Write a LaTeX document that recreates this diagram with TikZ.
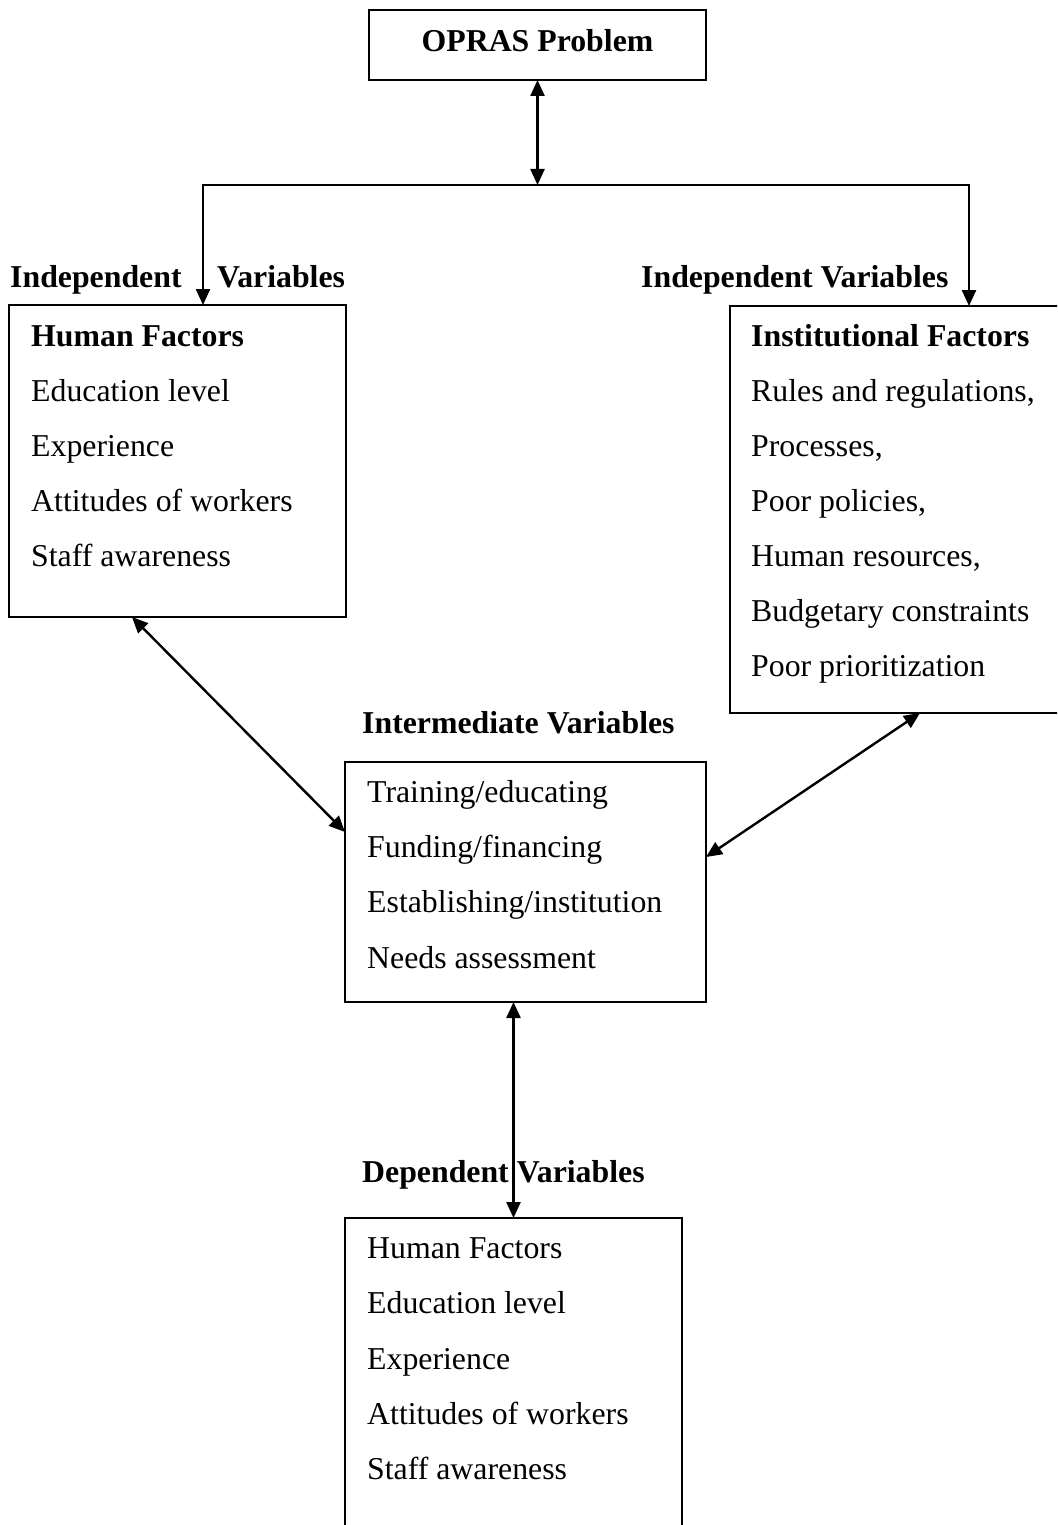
\documentclass[tikz,border=0pt]{standalone}
\usepackage{fontspec}
\setmainfont{Liberation Serif}
\usetikzlibrary{arrows.meta}
\begin{document}
\begin{tikzpicture}[x=1pt,y=-1pt,
  box/.style={draw,line width=2.2pt,inner sep=0pt,outer sep=0pt,anchor=north west},
  txt/.style={anchor=base west,inner sep=0pt,font=\fontsize{31.8}{38}\selectfont},
  btxt/.style={txt,font=\fontsize{31.8}{38}\selectfont\bfseries},
  conn/.style={line width=2.4pt},
  tip/.style={-{Triangle[length=16pt,width=14pt]}},
  dtip/.style={{Triangle[length=16pt,width=14pt]}-{Triangle[length=16pt,width=14pt]}}]
\useasboundingbox (0,0) rectangle (1057,1525);
\clip (0,0) rectangle (1057,1525);
% boxes
\node[box,minimum width=337pt,minimum height=70pt] (opras) at (369,10) {};
\node[btxt,anchor=base] (oprastxt) at (537.5,52) {OPRAS Problem};
\node[box,minimum width=337pt,minimum height=312pt] (human) at (9,305) {};
\node[box,minimum width=340pt,minimum height=407pt] (inst) at (730,306) {};
\node[box,minimum width=361pt,minimum height=240pt] (inter) at (345,762) {};
\node[box,minimum width=337pt,minimum height=330pt] (dep) at (345,1218) {};
% labels
\node[btxt] (lind) at (10,287) {Independent};
\node[btxt] (lvar) at (217,287) {Variables};
\node[btxt] (rind) at (641,287) {Independent Variables};
\node[btxt] (intlab) at (362,733) {Intermediate Variables};
\node[btxt] (deplab) at (362,1182) {Dependent Variables};
% human factors
\node[btxt] (h0) at (31,346) {Human Factors};
\node[txt] (h1) at (31,401) {Education level};
\node[txt] (h2) at (31,456) {Experience};
\node[txt] (h3) at (31,511) {Attitudes of workers};
\node[txt] (h4) at (31,566) {Staff awareness};
% institutional
\node[btxt] (i0) at (751,346) {Institutional Factors};
\node[txt] (i1) at (751,401) {Rules and regulations,};
\node[txt] (i2) at (751,456) {Processes,};
\node[txt] (i3) at (751,511) {Poor policies,};
\node[txt] (i4) at (751,566) {Human resources,};
\node[txt] (i5) at (751,621) {Budgetary constraints};
\node[txt] (i6) at (751,676) {Poor prioritization};
% intermediate
\node[txt] (m1) at (367,802) {Training/educating};
\node[txt] (m2) at (367,857) {Funding/financing};
\node[txt] (m3) at (367,912) {Establishing/institution};
\node[txt] (m4) at (367,968) {Needs assessment};
% dependent
\node[txt] (d1) at (367,1258) {Human Factors};
\node[txt] (d2) at (367,1313) {Education level};
\node[txt] (d3) at (367,1369) {Experience};
\node[txt] (d4) at (367,1424) {Attitudes of workers};
\node[txt] (d5) at (367,1479) {Staff awareness};
% connectors
\coordinate (jn) at (537.5,185);
\coordinate (jl) at (203,185);
\coordinate (jr) at (969,185);
\draw[conn,line cap=rect] (jl) -- (jr);
\draw[conn,dtip] (opras.south) -- (jn);
\draw[conn,tip] (jl) -- (jl |- human.north);
\draw[conn,tip] (jr) -- (jr |- inst.north);
\draw[conn,dtip] ([xshift=-45.5pt]human.south) -- ([yshift=50pt]inter.west);
\draw[conn,dtip] ([xshift=190pt]inst.south west) -- ([yshift=25pt]inter.east);
\draw[conn,dtip] (inter.south -| dep.north) -- (dep.north);
\end{tikzpicture}
\end{document}
